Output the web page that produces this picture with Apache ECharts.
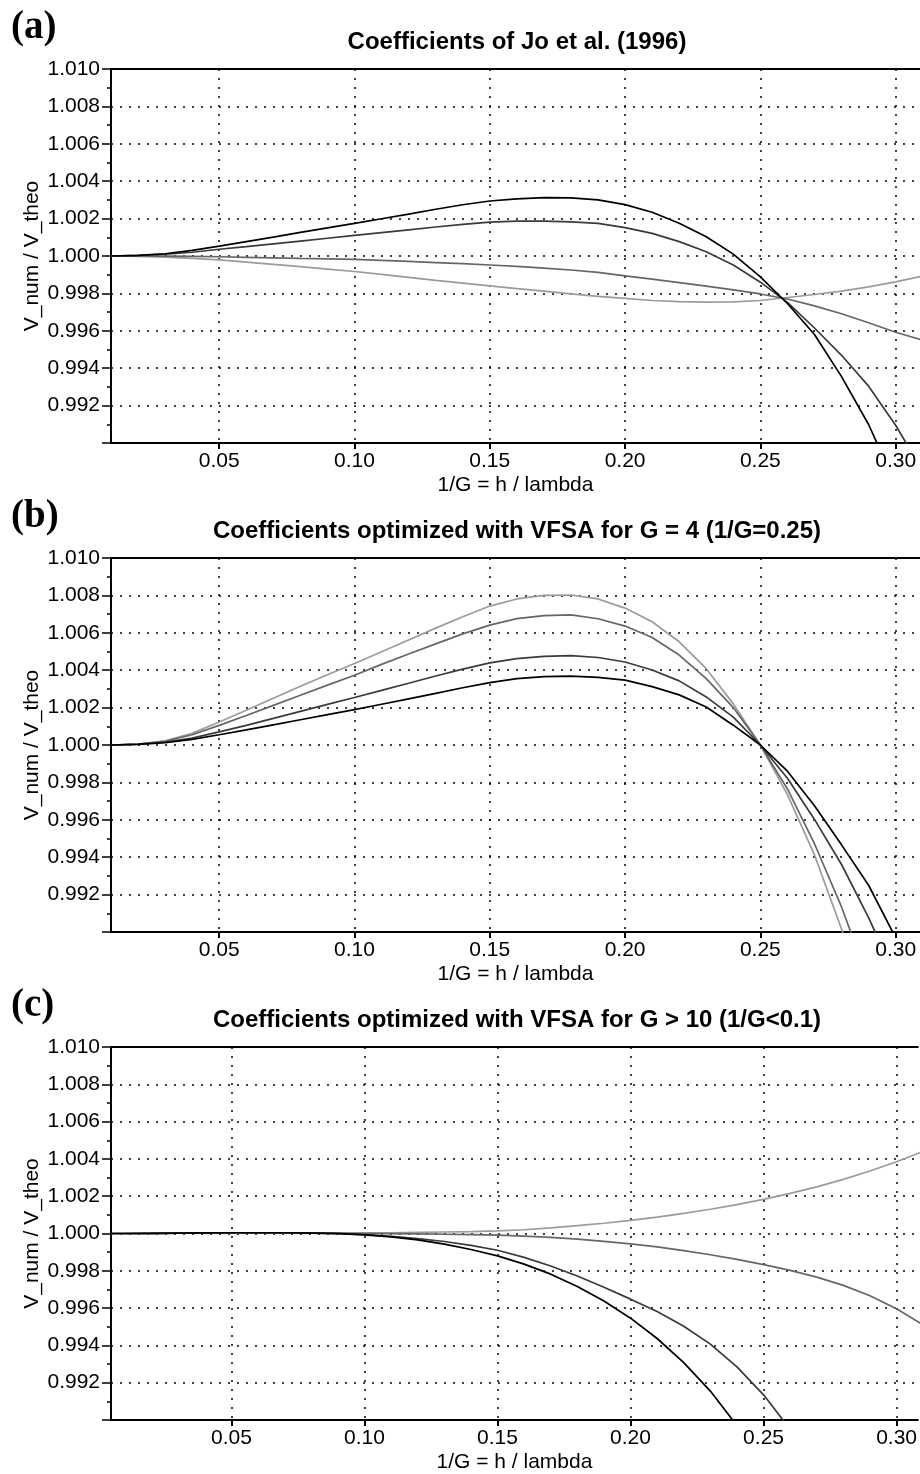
<!DOCTYPE html>
<html>
<head>
<meta charset="utf-8">
<script src="https://cdn.jsdelivr.net/npm/echarts@6/dist/echarts.min.js"></script>
<style>
  html, body { margin: 0; padding: 0; background: #fff; }
  #chart { width: 920px; height: 1474px; }
</style>
</head>
<body>
<div id="chart"></div>
<script>
// x samples (1/G = h / lambda)
const xsAB = [0.01, 0.02, 0.03, 0.04, 0.05, 0.06, 0.07, 0.08, 0.09, 0.10,
  0.11, 0.12, 0.13, 0.14, 0.15, 0.16, 0.17, 0.18, 0.19, 0.20,
  0.21, 0.22, 0.23, 0.24, 0.25, 0.26, 0.27, 0.28, 0.29, 0.30, 0.31];
const xsC = [0.005, 0.01, 0.02, 0.03, 0.04, 0.05, 0.06, 0.07, 0.08, 0.09, 0.10,
  0.11, 0.12, 0.13, 0.14, 0.15, 0.16, 0.17, 0.18, 0.19, 0.20,
  0.21, 0.22, 0.23, 0.24, 0.25, 0.26, 0.27, 0.28, 0.29, 0.30, 0.31];

// (a) Jo et al. (1996)
const a1 = [1.0, 1.00003, 1.00012, 1.0003, 1.00053, 1.00077, 1.00101, 1.00126, 1.0015, 1.00174,
  1.00199, 1.00224, 1.0025, 1.00274, 1.00294, 1.00306, 1.00312, 1.00311, 1.003, 1.00275,
  1.00234, 1.00175, 1.00103, 1.0001, 0.99888, 0.99746, 0.9958, 0.99355, 0.99099, 0.9878, null];
const a2 = [1.0, 1.00003, 1.0001, 1.0002, 1.00036, 1.0005, 1.00065, 1.0008, 1.00095, 1.0011,
  1.00125, 1.0014, 1.00155, 1.00169, 1.00181, 1.00187, 1.00187, 1.00182, 1.00174, 1.00152,
  1.00121, 1.00077, 1.00023, 0.99952, 0.9986, 0.99752, 0.99615, 0.99469, 0.99304, 0.99095, 0.9885];
const a3 = [1.0, 1.0, 0.99999, 0.99998, 0.99996, 0.99993, 0.9999, 0.99987, 0.99985, 0.99982,
  0.99977, 0.99971, 0.99965, 0.99959, 0.99952, 0.99944, 0.99935, 0.99925, 0.99912, 0.99894,
  0.99876, 0.99858, 0.99839, 0.99819, 0.99797, 0.9977, 0.99733, 0.99691, 0.99643, 0.99592, 0.9955];
const a4 = [1.0, 0.99998, 0.99994, 0.99987, 0.99979, 0.99967, 0.99955, 0.99943, 0.9993, 0.99917,
  0.99902, 0.99886, 0.9987, 0.99855, 0.9984, 0.99826, 0.99812, 0.99797, 0.99784, 0.99773,
  0.99762, 0.99756, 0.99753, 0.99755, 0.99762, 0.99778, 0.99794, 0.99812, 0.99835, 0.99862, 0.99893];

// (b) VFSA, G = 4
const b1 = [1.0, 1.00003, 1.00012, 1.0003, 1.00055, 1.00081, 1.00108, 1.00135, 1.00162, 1.00189,
  1.00218, 1.00247, 1.00276, 1.00306, 1.00334, 1.00355, 1.00366, 1.00368, 1.00362, 1.00347,
  1.00312, 1.00268, 1.00203, 1.00106, 1.0, 0.9986, 0.99675, 0.99466, 0.9925, 0.98969, null];
const b2 = [1.0, 1.00004, 1.00015, 1.00037, 1.0007, 1.00105, 1.00142, 1.0018, 1.00217, 1.00254,
  1.00292, 1.0033, 1.00369, 1.00406, 1.00439, 1.00462, 1.00474, 1.00478, 1.00468, 1.00444,
  1.00401, 1.00343, 1.00257, 1.00149, 1.0, 0.99822, 0.99602, 0.99361, 0.99077, 0.9876, null];
const b3 = [1.0, 1.00005, 1.0002, 1.00055, 1.00105, 1.00158, 1.00212, 1.00266, 1.0032, 1.00373,
  1.00431, 1.00487, 1.00541, 1.00594, 1.00641, 1.00676, 1.00692, 1.00696, 1.00675, 1.00636,
  1.00575, 1.00481, 1.00355, 1.002, 1.0, 0.99765, 0.99472, 0.99134, 0.9874, null, null];
const b4 = [1.0, 1.00005, 1.00022, 1.00062, 1.00123, 1.00186, 1.0025, 1.00314, 1.00376, 1.00436,
  1.00499, 1.00562, 1.00625, 1.00686, 1.00743, 1.00781, 1.008, 1.00802, 1.00781, 1.00732,
  1.00659, 1.00552, 1.00408, 1.0022, 1.0, 0.99735, 0.99412, 0.99016, 0.9855, null, null];

// (c) VFSA, G > 10
const c1 = [1.0, 1.0, 1.00001, 1.00002, 1.00003, 1.00004, 1.00004, 1.00004, 1.00002, 0.99999, 0.99993,
  0.99982, 0.99966, 0.99943, 0.99914, 0.9988, 0.99836, 0.99782, 0.99716, 0.99638, 0.99546,
  0.99437, 0.99308, 0.99155, 0.9897, null, null, null, null, null, null, null];
const c2 = [1.0, 1.0, 1.00001, 1.00002, 1.00003, 1.00004, 1.00004, 1.00004, 1.00003, 1.00001, 0.99994,
  0.99985, 0.99973, 0.99957, 0.99936, 0.9991, 0.99872, 0.99826, 0.99772, 0.99712, 0.99648,
  0.99582, 0.99503, 0.99407, 0.99285, 0.99135, 0.9895, null, null, null, null, null];
const c3 = [1.0, 1.0, 1.00001, 1.00002, 1.00003, 1.00003, 1.00003, 1.00003, 1.00002, 1.00001, 1.0,
  0.99999, 0.99998, 0.99996, 0.99994, 0.99991, 0.99986, 0.99979, 0.9997, 0.99958, 0.99944,
  0.99928, 0.99908, 0.99886, 0.99861, 0.99833, 0.99802, 0.99766, 0.99722, 0.99666, 0.99596, 0.9951];
const c4 = [1.0, 1.0, 1.00001, 1.00002, 1.00002, 1.00003, 1.00003, 1.00003, 1.00003, 1.00002, 1.00003,
  1.00004, 1.00006, 1.00008, 1.0001, 1.00014, 1.0002, 1.0003, 1.00042, 1.00055, 1.0007,
  1.00088, 1.00108, 1.0013, 1.00155, 1.00183, 1.00215, 1.0025, 1.0029, 1.00335, 1.00385, 1.0044];

const xTicks = [0.05, 0.10, 0.15, 0.20, 0.25, 0.30];
const panelLabels = ["(a)", "(b)", "(c)"];
const titles = [
  "Coefficients of Jo et al. (1996)",
  "Coefficients optimized with VFSA for G = 4 (1/G=0.25)",
  "Coefficients optimized with VFSA for G > 10 (1/G<0.1)"
];
const xRanges = [[0.01, 0.309], [0.01, 0.309], [0.0047, 0.308]];
const curveColors = ["#000000", "#3a3a3a", "#666666", "#9b9b9b"];

const panels = [
  { xs: xsAB, ys: [a1, a2, a3, a4] },
  { xs: xsAB, ys: [b1, b2, b3, b4] },
  { xs: xsC, ys: [c1, c2, c3, c4] }
];

const FONT = '"Liberation Sans", Arial, Helvetica, sans-serif';
const GRID_TOP = 69, GRID_H = 374, STEP = 489, GRID_LEFT = 111;
const dotted = { type: [2, 7], color: "#000", width: 1.5 };

const grid = [], xAxis = [], yAxis = [], series = [], graphic = [];

panels.forEach((p, i) => {
  const top = GRID_TOP + i * STEP;
  grid.push({ left: GRID_LEFT, top: top, right: 0, height: GRID_H });

  // bottom axis with ticks, labels and vertical dotted lines
  xAxis.push({
    type: "value", gridIndex: i, position: "bottom",
    min: xRanges[i][0], max: xRanges[i][1],
    axisLine: { show: true, onZero: false, lineStyle: { color: "#000", width: 2 } },
    axisTick: { show: true, customValues: xTicks, length: 6, lineStyle: { color: "#000", width: 2 } },
    axisLabel: {
      customValues: xTicks, fontSize: 21, fontFamily: FONT, color: "#000", margin: 8,
      formatter: (v) => v.toFixed(2)
    },
    splitLine: { show: true, lineStyle: dotted },
    name: "1/G = h / lambda", nameLocation: "middle", nameGap: 32,
    nameTextStyle: { fontSize: 21, fontFamily: FONT, color: "#000" }
  });
  // top frame line
  xAxis.push({
    type: "value", gridIndex: i, position: "top",
    min: xRanges[i][0], max: xRanges[i][1],
    axisLine: { show: true, onZero: false, lineStyle: { color: "#000", width: 2 } },
    axisTick: { show: false }, axisLabel: { show: false }, splitLine: { show: false }
  });

  yAxis.push({
    type: "value", gridIndex: i, min: 0.99, max: 1.01, interval: 0.002,
    axisLine: { show: true, onZero: false, lineStyle: { color: "#000", width: 2 } },
    axisTick: { show: true, length: 9, lineStyle: { color: "#000", width: 1.5 } },
    minorTick: { show: true, splitNumber: 2, length: 4, lineStyle: { color: "#000", width: 1.5 } },
    axisLabel: {
      fontSize: 21, fontFamily: FONT, color: "#000", margin: 11,
      formatter: (v) => (v < 0.9905 ? "" : v.toFixed(3))
    },
    splitLine: { show: true, lineStyle: dotted },
    name: "V_num / V_theo", nameLocation: "middle", nameGap: 68, nameRotate: 90,
    nameMoveOverlap: false,
    nameTextStyle: { fontSize: 21, fontFamily: FONT, color: "#000" }
  });

  // light grey first so the black curve sits on top
  [3, 2, 1, 0].forEach((k) => {
    const data = [];
    p.xs.forEach((x, j) => {
      if (p.ys[k][j] !== null) data.push([x, p.ys[k][j]]);
    });
    series.push({
      type: "line", xAxisIndex: i * 2, yAxisIndex: i,
      data: data, showSymbol: false, symbol: "none", clip: true, silent: true,
      lineStyle: { color: curveColors[k], width: 1.7 }
    });
  });

  graphic.push({
    type: "text", x: 11, y: 28 + i * STEP,
    style: { text: panelLabels[i], font: 'bold 39px "Liberation Serif", "Times New Roman", serif',
      fill: "#000", align: "left", verticalAlign: "middle" }
  });
  graphic.push({
    type: "text", x: 517, y: 42 + i * STEP,
    style: { text: titles[i], font: "bold 24px " + FONT, fill: "#000",
      align: "center", verticalAlign: "middle" }
  });
});

const myChart = echarts.init(document.getElementById("chart"), null, { renderer: "canvas" });
myChart.setOption({
  animation: false,
  backgroundColor: "#fff",
  grid: grid,
  xAxis: xAxis,
  yAxis: yAxis,
  series: series,
  graphic: graphic
});
</script>
</body>
</html>
